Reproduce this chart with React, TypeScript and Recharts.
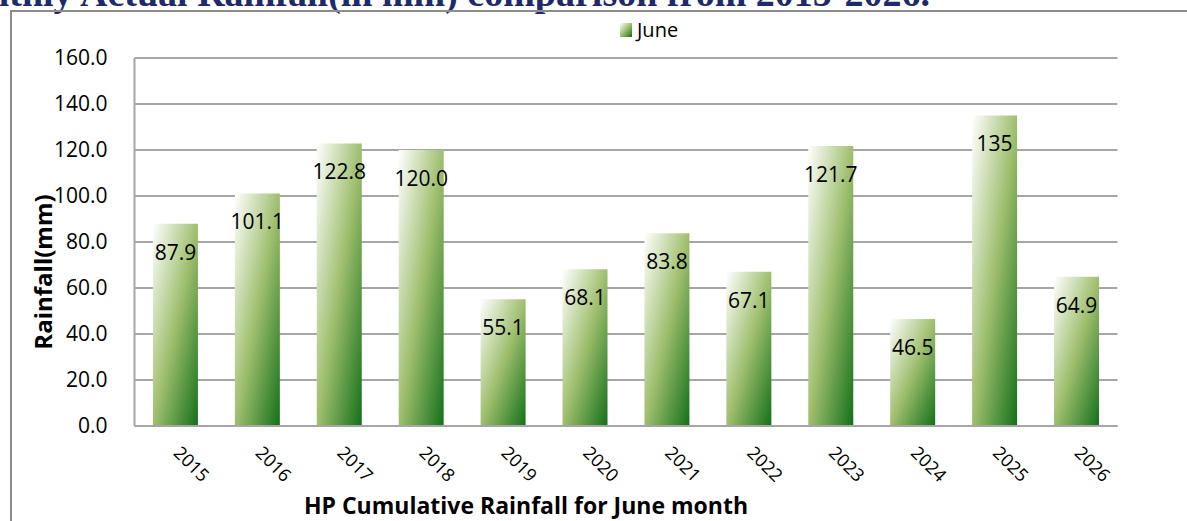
import React from 'react';
import { BarChart, Bar, XAxis, YAxis, CartesianGrid, LabelList } from 'recharts';

const years = ['2015', '2016', '2017', '2018', '2019', '2020', '2021', '2022', '2023', '2024', '2025', '2026'];
const juneValues = [87.9, 101.1, 122.8, 120.0, 55.1, 68.1, 83.8, 67.1, 121.7, 46.5, 135, 64.9];
const valueLabels = ['87.9', '101.1', '122.8', '120.0', '55.1', '68.1', '83.8', '67.1', '121.7', '46.5', '135', '64.9'];
const yTicks = [0, 20, 40, 60, 80, 100, 120, 140, 160];

const data = years.map((y, i) => ({ year: y, June: juneValues[i], label: valueLabels[i] }));

const FONT = '"Open Sans", sans-serif';

const XTick = (props: any) => {
  const { x, y, payload } = props;
  const ax = x - 3;
  const ay = y + 20;
  return (
    <text
      x={ax}
      y={ay}
      transform={`rotate(45 ${ax} ${ay})`}
      textAnchor="start"
      fontFamily={FONT}
      fontSize={18}
      fill="#000"
    >
      {payload.value}
    </text>
  );
};

const Grad = ({ id }: { id: string }) => (
  <linearGradient id={id} x1="0" y1="0" x2="1" y2="1">
    <stop offset="0%" stopColor="#ffffff" />
    <stop offset="50%" stopColor="#9fbf6e" />
    <stop offset="100%" stopColor="#14701a" />
  </linearGradient>
);

export default function App() {
  return (
    <div style={{ position: 'absolute', left: 0, top: 0, width: 1187, height: 521, background: '#fff', overflow: 'hidden' }}>
      <svg width={1187} height={521} style={{ position: 'absolute', left: 0, top: 0 }}>
        <defs>
          <Grad id="legGrad" />
        </defs>
        <text
          x={930}
          y={6}
          textAnchor="end"
          fontFamily='"Liberation Serif", serif'
          fontWeight="bold"
          fontSize={38}
          fill="#1f2a6b"
        >
          Monthly Actual Rainfall(in mm) comparison from 2015-2026.
        </text>
        <line x1={10} y1={11} x2={1187} y2={11} stroke="#8c8c8c" strokeWidth={2} />
        <line x1={11} y1={11} x2={11} y2={521} stroke="#8c8c8c" strokeWidth={2} />
        <rect x={620} y={23} width={12} height={14} fill="url(#legGrad)" />
        <text x={637} y={37} fontFamily={FONT} fontSize={20} fill="#000">
          June
        </text>
        <text
          x={42}
          y={272}
          transform="rotate(-90 42 272)"
          textAnchor="middle"
          dominantBaseline="central"
          fontFamily={FONT}
          fontWeight="bold"
          fontSize={24}
          fill="#000"
        >
          Rainfall(mm)
        </text>
        <text
          x={526}
          y={514}
          textAnchor="middle"
          fontFamily={FONT}
          fontWeight="bold"
          fontSize={23}
          fill="#000"
        >
          HP Cumulative Rainfall for June month
        </text>
      </svg>
      <div style={{ position: 'absolute', left: 0, top: 0 }}>
        <BarChart
          width={1187}
          height={521}
          data={data}
          margin={{ top: 58, right: 69.5, left: 0, bottom: 65 }}
          barCategoryGap="22.5%"
        >
          <defs>
            <Grad id="barGrad" />
          </defs>
          <CartesianGrid vertical={false} stroke="#a6a6a6" strokeWidth={2} />
          <XAxis
            dataKey="year"
            height={30}
            tick={<XTick />}
            tickLine={false}
            axisLine={{ stroke: '#a6a6a6', strokeWidth: 2 }}
            interval={0}
          />
          <YAxis
            width={134.5}
            domain={[0, 160]}
            ticks={yTicks}
            tickFormatter={(v: number) => v.toFixed(1)}
            tickLine={false}
            tickSize={0}
            tickMargin={27}
            axisLine={{ stroke: '#a6a6a6', strokeWidth: 2 }}
            tick={{ fontFamily: FONT, fontSize: 21, fill: '#000' }}
          />
          <Bar dataKey="June" fill="url(#barGrad)" isAnimationActive={false}>
            <LabelList
              dataKey="label"
              position="insideTop"
              offset={21}
              style={{ fontFamily: FONT, fontSize: 21, fill: '#000' }}
            />
          </Bar>
        </BarChart>
      </div>
    </div>
  );
}
